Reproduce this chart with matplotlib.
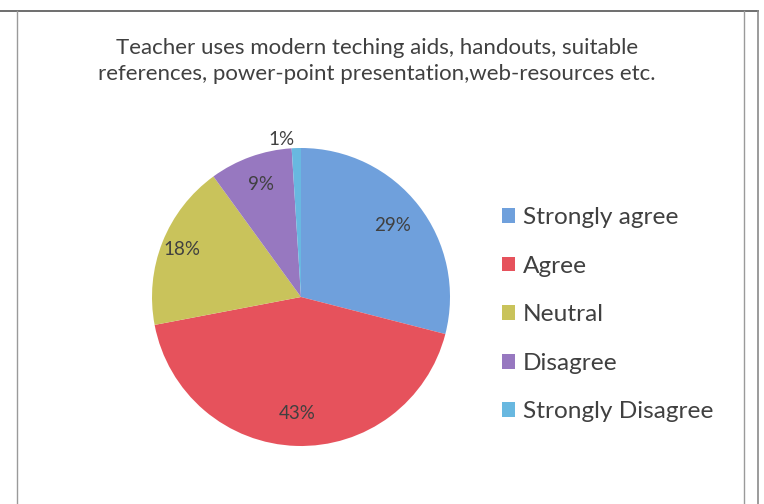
import matplotlib
matplotlib.use("Agg")
import matplotlib.pyplot as plt
from matplotlib.patches import Patch
from matplotlib.lines import Line2D
import numpy as np

categories = ["Strongly agree", "Agree", "Neutral", "Disagree", "Strongly Disagree"]
values = [29, 43, 18, 9, 1]
colors = ["#6fa0dc", "#e6525c", "#c9c35b", "#9778c0", "#68b8e0"]
title = "Teacher uses modern teching aids, handouts, suitable\nreferences, power-point presentation,web-resources etc."
label_dist = [0.78, 0.78, 0.86, 0.80, 1.06]

plt.rcParams['font.family'] = ['Lato', 'DejaVu Sans']

W, H = 764, 504
fig = plt.figure(figsize=(W / 100, H / 100), dpi=100)
fig.patch.set_facecolor("white")

# frame lines
def px_line(x0, y0, x1, y1, color, lw):
    fig.add_artist(Line2D([x0 / W, x1 / W], [1 - y0 / H, 1 - y1 / H], color=color, lw=lw,
                          transform=fig.transFigure))

px_line(0, 11, 758, 11, "#6e6e6e", 1.4)
px_line(758, 11, 758, 504, "#8a8a8a", 1.2)
px_line(17, 11, 17, 504, "#9a9a9a", 1.0)
px_line(744, 11, 744, 504, "#9a9a9a", 1.0)

cx, cy, R = 301, 297, 149
ax = fig.add_axes([(cx - R) / W, (H - cy - R) / H, 2 * R / W, 2 * R / H])
wedges, _ = ax.pie(values, colors=colors, startangle=90, counterclock=False, radius=1,
                   wedgeprops=dict(linewidth=0))
ax.set_xlim(-1, 1)
ax.set_ylim(-1, 1)
ax.set_aspect("equal")
ax.axis("off")

total = sum(values)
for w, v, d in zip(wedges, values, label_dist):
    ang = np.deg2rad((w.theta1 + w.theta2) / 2)
    x, y = d * np.cos(ang), d * np.sin(ang)
    if v == 1:
        x -= 0.1
    ax.text(x, y, f"{round(100 * v / total)}%", ha="center", va="center",
            fontsize=13.5, color="#404040")

fig.text(377 / W, 1 - 61 / H, title, ha="center", va="center", fontsize=16,
         color="#404040", linespacing=1.4)

handles = [Patch(facecolor=c, edgecolor="none") for c in colors]
leg = fig.legend(handles, categories, loc="upper left",
                 bbox_to_anchor=(502 / W, 1 - 207 / H), frameon=False,
                 fontsize=17.6, handlelength=0.55, handleheight=0.55, handletextpad=0.3,
                 labelspacing=1.13, labelcolor="#404040", borderaxespad=0, borderpad=0)

fig.savefig("out.png", dpi=100)
